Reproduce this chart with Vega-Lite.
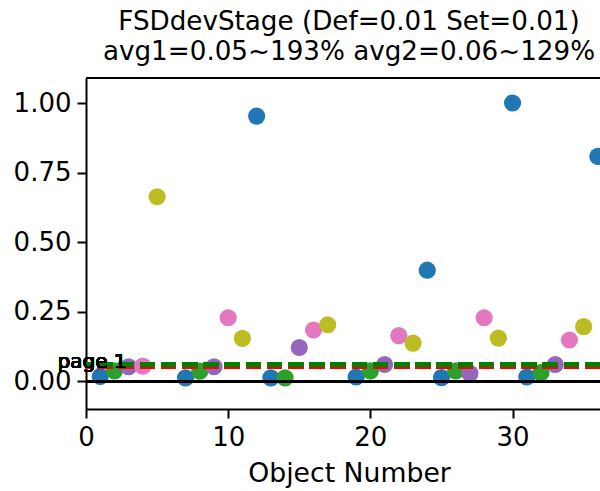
{
  "$schema": "https://vega.github.io/schema/vega-lite/v6.json",
  "width": 514,
  "height": 331,
  "autosize": {"type": "none"},
  "padding": {"left": 86, "top": 78, "right": 0, "bottom": 82},
  "background": "white",
  "config": {
    "font": "DejaVu Sans",
    "view": {"stroke": null},
    "axis": {
      "grid": false,
      "domainColor": "black",
      "domainWidth": 2,
      "tickColor": "black",
      "tickWidth": 2,
      "tickSize": 9,
      "labelColor": "black",
      "labelFontSize": 26,
      "labelPadding": 6,
      "titleColor": "black",
      "titleFontSize": 26.7,
      "titleFontWeight": "normal"
    }
  },
  "title": {
    "text": ["FSDdevStage (Def=0.01 Set=0.01)", "avg1=0.05~193% avg2=0.06~129%"],
    "fontSize": 26.2,
    "fontWeight": "normal",
    "color": "black",
    "anchor": "middle",
    "lineHeight": 30,
    "offset": 12,
    "dx": 6
  },
  "data": {
    "values": [
      {"obj": 1, "val": 0.017, "grp": "a"},
      {"obj": 2, "val": 0.037, "grp": "b"},
      {"obj": 3, "val": 0.052, "grp": "c"},
      {"obj": 4, "val": 0.054, "grp": "d"},
      {"obj": 5, "val": 0.663, "grp": "e"},
      {"obj": 7, "val": 0.012, "grp": "a"},
      {"obj": 8, "val": 0.036, "grp": "b"},
      {"obj": 9, "val": 0.052, "grp": "c"},
      {"obj": 10, "val": 0.228, "grp": "d"},
      {"obj": 11, "val": 0.154, "grp": "e"},
      {"obj": 12, "val": 0.953, "grp": "a"},
      {"obj": 13, "val": 0.012, "grp": "a"},
      {"obj": 14, "val": 0.012, "grp": "b"},
      {"obj": 15, "val": 0.121, "grp": "c"},
      {"obj": 16, "val": 0.184, "grp": "d"},
      {"obj": 17, "val": 0.203, "grp": "e"},
      {"obj": 19, "val": 0.015, "grp": "a"},
      {"obj": 20, "val": 0.037, "grp": "b"},
      {"obj": 21, "val": 0.06, "grp": "c"},
      {"obj": 22, "val": 0.164, "grp": "d"},
      {"obj": 23, "val": 0.137, "grp": "e"},
      {"obj": 24, "val": 0.399, "grp": "a"},
      {"obj": 25, "val": 0.013, "grp": "a"},
      {"obj": 26, "val": 0.037, "grp": "b"},
      {"obj": 27, "val": 0.028, "grp": "c"},
      {"obj": 28, "val": 0.228, "grp": "d"},
      {"obj": 29, "val": 0.155, "grp": "e"},
      {"obj": 30, "val": 1.0, "grp": "a"},
      {"obj": 31, "val": 0.015, "grp": "a"},
      {"obj": 32, "val": 0.031, "grp": "b"},
      {"obj": 33, "val": 0.06, "grp": "c"},
      {"obj": 34, "val": 0.148, "grp": "d"},
      {"obj": 35, "val": 0.196, "grp": "e"},
      {"obj": 36, "val": 0.808, "grp": "a"}
    ]
  },
  "layer": [
    {
      "mark": {"type": "circle", "size": 295, "opacity": 1, "clip": true},
      "encoding": {
        "x": {
          "field": "obj", "type": "quantitative",
          "scale": {"domain": [0, 36.15], "nice": false, "zero": false},
          "axis": {"values": [0, 10, 20, 30], "title": "Object Number", "titlePadding": 10, "titleX": 263, "labelFlush": false}
        },
        "y": {
          "field": "val", "type": "quantitative",
          "scale": {"domain": [-0.1, 1.09], "nice": false, "zero": false},
          "axis": {"values": [0, 0.25, 0.5, 0.75, 1], "format": ".2f", "title": null, "labelFlush": false}
        },
        "color": {
          "field": "grp", "type": "nominal", "legend": null,
          "scale": {"domain": ["a", "b", "c", "d", "e"], "range": ["#1f77b4", "#2ca02c", "#9467bd", "#e377c2", "#bcbd22"]}
        }
      }
    },
    {
      "mark": {"type": "rule", "color": "black", "strokeWidth": 2},
      "encoding": {"y": {"datum": 0}}
    },
    {
      "mark": {"type": "rule", "color": "#ff0000", "strokeWidth": 4, "strokeDash": [14.8, 6.4]},
      "encoding": {"y": {"datum": 0.052}}
    },
    {
      "mark": {"type": "rule", "color": "#008000", "strokeWidth": 4, "strokeDash": [14.8, 6.4]},
      "encoding": {"y": {"datum": 0.0605}}
    },
    {
      "mark": {"type": "rule", "color": "black", "strokeWidth": 2},
      "encoding": {"y": {"datum": 1.09}}
    },
    {
      "mark": {"type": "text", "text": "page 1", "align": "left", "baseline": "alphabetic", "fontSize": 20, "color": "black"},
      "encoding": {"x": {"datum": -2}, "y": {"datum": 0.048}}
    }
  ]
}
